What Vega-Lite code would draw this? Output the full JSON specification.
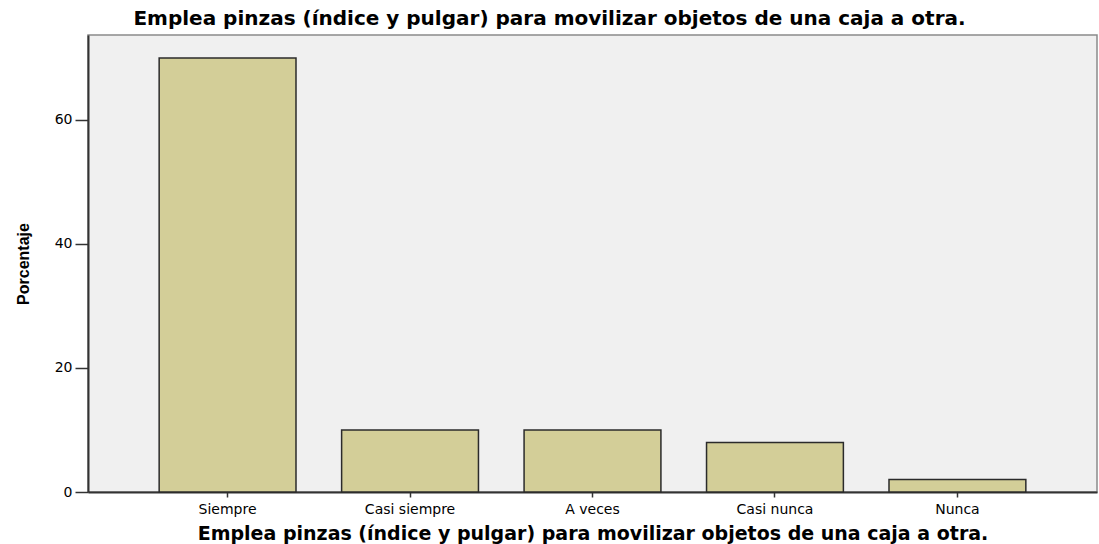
{
  "$schema": "https://vega.github.io/schema/vega-lite/v6.json",
  "autosize": "none",
  "width": 1009,
  "height": 457,
  "padding": {"left": 88, "top": 35, "right": 2, "bottom": 52},
  "background": "white",
  "title": {
    "text": "Emplea pinzas (índice y pulgar) para movilizar objetos de una caja a otra.",
    "font": "DejaVu Sans",
    "fontSize": 20,
    "fontWeight": "bold",
    "color": "#000000",
    "anchor": "middle",
    "dx": -43,
    "offset": 6
  },
  "data": {
    "values": [
      {"categoria": "Siempre", "porcentaje": 70},
      {"categoria": "Casi siempre", "porcentaje": 10},
      {"categoria": "A veces", "porcentaje": 10},
      {"categoria": "Casi nunca", "porcentaje": 8},
      {"categoria": "Nunca", "porcentaje": 2}
    ]
  },
  "mark": {"type": "bar", "fill": "#D3CE98", "stroke": "#2b2b2b", "strokeWidth": 1.5},
  "encoding": {
    "x": {
      "field": "categoria",
      "type": "nominal",
      "sort": ["Siempre", "Casi siempre", "A veces", "Casi nunca", "Nunca"],
      "scale": {"paddingInner": 0.25, "paddingOuter": 0.39},
      "axis": {
        "title": "Emplea pinzas (índice y pulgar) para movilizar objetos de una caja a otra.",
        "titleFont": "DejaVu Sans",
        "titleFontSize": 19,
        "titleFontWeight": "bold",
        "titleColor": "#000000",
        "titlePadding": 8,
        "labelAngle": 0,
        "labelFont": "DejaVu Sans",
        "labelFontSize": 14,
        "labelColor": "#000000",
        "labelPadding": 5,
        "tickSize": 5,
        "tickColor": "#333333",
        "tickWidth": 1.5,
        "domainColor": "#333333",
        "domainWidth": 2
      }
    },
    "y": {
      "field": "porcentaje",
      "type": "quantitative",
      "scale": {"domain": [0, 73.7], "nice": false},
      "axis": {
        "title": "Porcentaje",
        "titleFont": "Liberation Sans",
        "titleFontSize": 16,
        "titleFontWeight": "bold",
        "titleColor": "#000000",
        "titlePadding": 23,
        "values": [0, 20, 40, 60],
        "grid": false,
        "labelFont": "DejaVu Sans",
        "labelFontSize": 14,
        "labelColor": "#000000",
        "labelPadding": 3,
        "tickSize": 13,
        "tickColor": "#333333",
        "tickWidth": 1.5,
        "domainColor": "#333333",
        "domainWidth": 2
      }
    }
  },
  "config": {
    "view": {"fill": "#F0F0F0", "stroke": "#8a8a8a", "strokeWidth": 1.5}
  }
}
